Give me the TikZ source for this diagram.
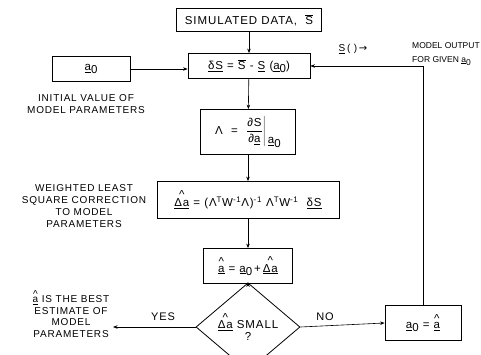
\documentclass[tikz,border=0pt]{standalone}
\usepackage{fontspec}
\setmainfont{Liberation Sans}[LetterSpace=8]
\newfontfamily\dejavu{DejaVu Sans}
\newfontfamily\tightsans{Liberation Sans}
\usetikzlibrary{arrows.meta,shapes.geometric}
\newcommand{\azero}{\underline{a}\raisebox{-3.5pt}{0}}
\newcommand{\hatover}[1]{\leavevmode\vbox{\offinterlineskip\halign{\hfil##\hfil\cr\raisebox{-5pt}{\^{}}\cr#1\cr}}}
\newcommand{\hatda}{\hatover{\underline{Δa}}}
\newcommand{\hata}{\hatover{\underline{a}}}
\begin{document}
\begin{tikzpicture}[x=1pt,y=-1pt,
  every node/.style={text=black},
  big/.style={font=\fontsize{11.5}{13}\selectfont},
  small/.style={font=\fontsize{10}{11.8}\selectfont},
  box/.style={draw, line width=0.8pt, inner sep=0pt, anchor=center, big},
  lbl/.style={align=center, inner sep=0pt, small},
  arr/.style={line width=0.6pt, -{Stealth[length=4.5pt,width=3.5pt]}}]
\useasboundingbox (0,0) rectangle (481,355);
\node[box, minimum width=145pt, minimum height=23pt] (sim) at (249,20) {SIMULATED DATA,\ \ $\overline{\mbox{S}}$};
\node[box, minimum width=122pt, minimum height=25pt] (ds) at (249,66) {\underline{δS}\ =\ $\overline{\mbox{S}}$\ -\ \underline{S}\ (\azero)};
\node[box, minimum width=78pt, minimum height=25pt] (a0) at (91,69) {\azero};
\node[lbl] (initxt) at (86,104) {INITIAL VALUE OF\\MODEL PARAMETERS};
\node[box, minimum width=95pt, minimum height=45pt] (lam) at (248,132) {Λ\ \ =\ \ $\displaystyle\frac{\mbox{∂S}}{\mbox{∂\underline{a}}}\Bigg|$\,\raisebox{-9pt}{\azero}};
\node[lbl] (wlstxt) at (84,206) {WEIGHTED LEAST\\SQUARE CORRECTION\\TO MODEL\\PARAMETERS};
\node[box, minimum width=182pt, minimum height=37pt] (wls) at (248,200) {\hatda\ =\ (Λ\textsuperscript{T}W\textsuperscript{-1}Λ)\textsuperscript{-1}\ Λ\textsuperscript{T}W\textsuperscript{-1}\ \ \underline{δS}};
\node[box, minimum width=89pt, minimum height=35pt] (ah) at (248,266) {\hata\ =\ \azero\,+\,\hatda};
\node[draw, line width=0.8pt, diamond, inner sep=0pt, minimum width=104pt, minimum height=60pt, align=center, big] (dia) at (248,327) {\hatda\ SMALL\\[-1pt]?};
\node[box, minimum width=76pt, minimum height=35pt] (fb) at (423,323) {\azero\ =\ \hata};
\node[lbl] (besttxt) at (71,314) {\hata\ IS THE BEST\\ESTIMATE OF\\MODEL\\PARAMETERS};
\node[lbl] (stxt) at (353,49) {\underline{S}\,(\ )\,{\dejavu →}};
\node[lbl, align=left, anchor=west, font=\tightsans\fontsize{8.5}{14}\selectfont] (motxt) at (412,54) {MODEL OUTPUT\\FOR GIVEN \azero};
\node[lbl, font=\fontsize{11}{13}\selectfont] (yes) at (163,317) {YES};
\node[lbl, font=\fontsize{11}{13}\selectfont] (no) at (325,317) {NO};
\coordinate (out) at (113,327);
\draw[arr] (sim) -- (ds);
\draw[arr] (a0.east) -- (a0.east -| ds.west);
\draw[arr] (ds) -- (lam);
\draw[arr] (lam) -- (wls);
\draw[arr] (wls) -- (ah);
\draw[arr] (ah) -- (dia);
\draw[arr] (dia.west) -- (out);
\draw[arr] (dia.east) -- (fb.west);
\draw[arr] (fb.north) |- (ds.east);
\end{tikzpicture}
\end{document}
